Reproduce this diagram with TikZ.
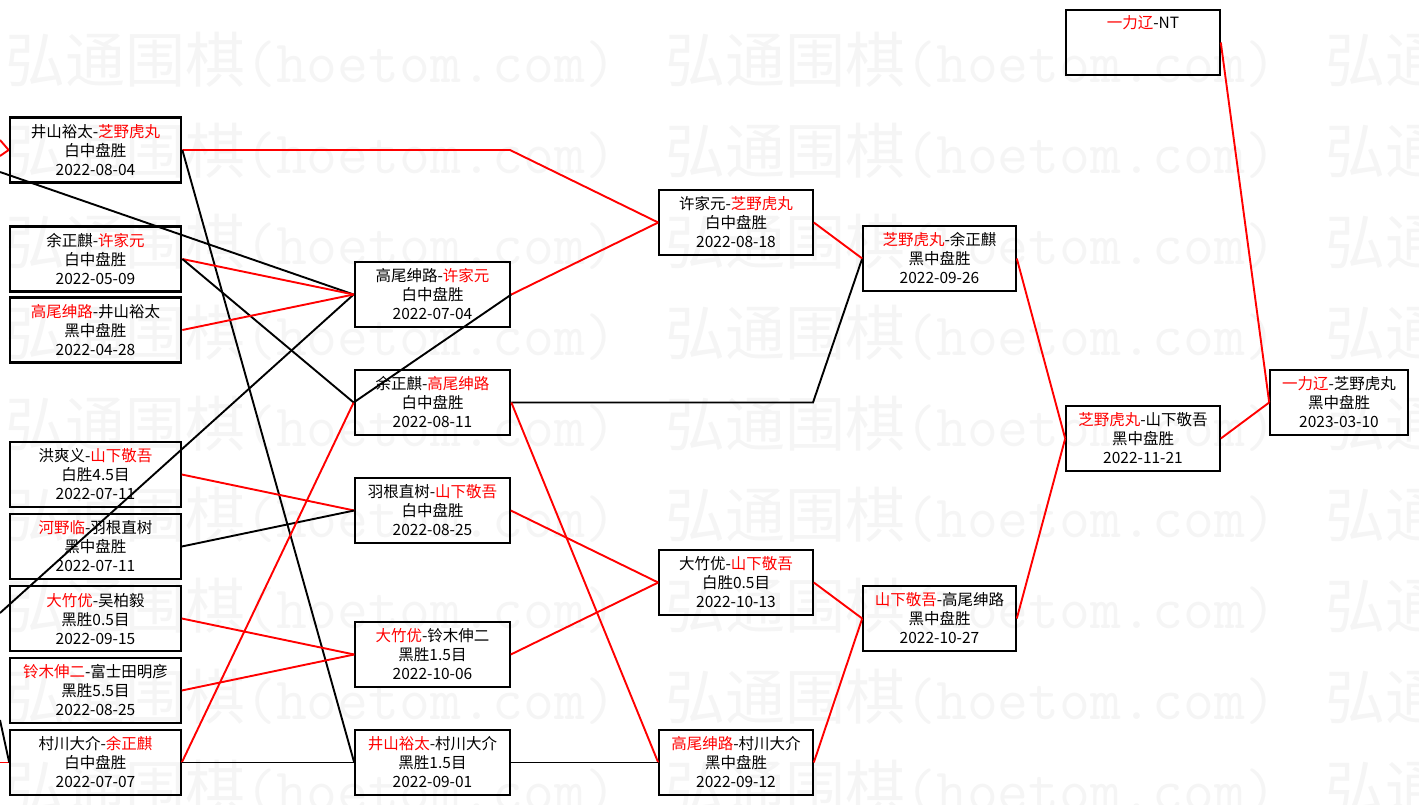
\documentclass[tikz,border=0pt]{standalone}
\usepackage{fontspec}
\setmainfont{Noto Sans CJK SC}
\newcommand\rn[1]{\textcolor{red}{#1}}
\tikzset{
  game/.style={draw, line width=1.6pt, minimum height=65pt, inner sep=0pt, align=center,
    font=\fontsize{15.5}{19}\selectfont},
  colA/.style={game, minimum width=171pt},
  colB/.style={game, minimum width=155pt},
  colC/.style={game, minimum width=154pt},
  colD/.style={game, minimum width=153pt},
  colE/.style={game, minimum width=154pt},
  colF/.style={game, minimum width=138pt},
  heavy/.style={line width=2.7pt},
  win/.style={draw=red, line width=1.9pt},
  lose/.style={draw=black, line width=1.9pt},
  wm/.style={anchor=west, inner sep=0pt, text=black!4, font=\fontsize{60}{60}\selectfont}
}
\begin{document}
\begin{tikzpicture}[x=1pt,y=-1pt]
\useasboundingbox (0,0) rectangle (1419,805);
\begin{scope}
\clip (0,0) rectangle (1419,805);
\foreach \r in {0,...,8}{
  \foreach \c in {0,1,2}{
    \node[wm] (wm-\r-\c) at (5+660*\c, 60+91*\r) {弘通围棋{\ttfamily(hoetom.com)}};
  }
}
\end{scope}

% column A
\node[colA, heavy] (A1) at (95.5,150) {井山裕太-\rn{芝野虎丸}\\白中盘胜\\2022-08-04};
\node[colA, heavy] (A2) at (95.5,259) {余正麒-\rn{许家元}\\白中盘胜\\2022-05-09};
\node[colA, heavy] (A3) at (95.5,330) {\rn{高尾绅路}-井山裕太\\黑中盘胜\\2022-04-28};
\node[colA] (A4) at (95.5,474.5) {洪爽义-\rn{山下敬吾}\\白胜4.5目\\2022-07-11};
\node[colA] (A5) at (95.5,546.5) {\rn{河野临}-羽根直树\\黑中盘胜\\2022-07-11};
\node[colA] (A6) at (95.5,618.5) {\rn{大竹优}-吴柏毅\\黑胜0.5目\\2022-09-15};
\node[colA] (A7) at (95.5,690.5) {\rn{铃木伸二}-富士田明彦\\黑胜5.5目\\2022-08-25};
\node[colA] (A8) at (95.5,762.5) {村川大介-\rn{余正麒}\\白中盘胜\\2022-07-07};
% column B
\node[colB, heavy] (B1) at (432.5,294.5) {高尾绅路-\rn{许家元}\\白中盘胜\\2022-07-04};
\node[colB, heavy] (B2) at (432.5,402.5) {余正麒-\rn{高尾绅路}\\白中盘胜\\2022-08-11};
\node[colB] (B3) at (432.5,510.5) {羽根直树-\rn{山下敬吾}\\白中盘胜\\2022-08-25};
\node[colB] (B4) at (432.5,654.5) {\rn{大竹优}-铃木伸二\\黑胜1.5目\\2022-10-06};
\node[colB] (B5) at (432.5,762.5) {\rn{井山裕太}-村川大介\\黑胜1.5目\\2022-09-01};
% column C
\node[colC] (C1) at (736,222.5) {许家元-\rn{芝野虎丸}\\白中盘胜\\2022-08-18};
\node[colC] (C2) at (736,582.5) {大竹优-\rn{山下敬吾}\\白胜0.5目\\2022-10-13};
\node[colC] (C3) at (736,762.5) {\rn{高尾绅路}-村川大介\\黑中盘胜\\2022-09-12};
% column D
\node[colD] (D1) at (939.5,258.5) {\rn{芝野虎丸}-余正麒\\黑中盘胜\\2022-09-26};
\node[colD] (D2) at (939.5,618.5) {\rn{山下敬吾}-高尾绅路\\黑中盘胜\\2022-10-27};
% column E
\node[colE] (E0) at (1143,42.5) {};
\node[inner sep=0pt, font=\fontsize{15.5}{19}\selectfont] (E0t) at (1143,23) {\rn{一力辽}-NT};
\node[colE] (E1) at (1143,438.5) {\rn{芝野虎丸}-山下敬吾\\黑中盘胜\\2022-11-21};
% column F
\node[colF] (F1) at (1339,402.5) {\rn{一力辽}-芝野虎丸\\黑中盘胜\\2023-03-10};

% off-picture ends
\coordinate (inA1a) at (0,140);
\coordinate (inA1b) at (0,156);
\coordinate (inB1a) at (0,172);
\coordinate (inB1b) at (0,613);
\coordinate (inA8a) at (0,720);
\coordinate (inA8b) at (0,762.5);
\coordinate (bendA1) at (510,150);
\coordinate (bendB2) at (813,402.5);

% connectors
\draw[win] (inA1a) -- (A1.west);
\draw[win] (inA1b) -- (A1.west);
\draw[win] (inA8b) -- (A8.west);
\draw[lose] (inA8a) -- (A8.west);
\draw[lose] (inB1a) -- (B1.west);
\draw[lose] (inB1b) -- (B1.west);

\draw[win] (A1.east) -- (bendA1) -- (C1.west);
\draw[lose] (A1.east) -- (B5.west);
\draw[win] (A2.east) -- (B1.west);
\draw[lose] (A2.east) -- (B2.west);
\draw[win] (A3.east) -- (B1.west);
\draw[win] (A4.east) -- (B3.west);
\draw[lose] (A5.east) -- (B3.west);
\draw[win] (A6.east) -- (B4.west);
\draw[win] (A7.east) -- (B4.west);
\draw[win] (A8.east) -- (B2.west);
\draw[lose] (A8.east) -- (B5.west);

\draw[win] (B1.east) -- (C1.west);
\draw[lose] (B1.east) -- (B2.west);
\draw[lose] (B2.east) -- (bendB2) -- (D1.west);
\draw[win] (B2.east) -- (C3.west);
\draw[win] (B3.east) -- (C2.west);
\draw[win] (B4.east) -- (C2.west);
\draw[lose] (B5.east) -- (C3.west);

\draw[win] (C1.east) -- (D1.west);
\draw[win] (C2.east) -- (D2.west);
\draw[win] (C3.east) -- (D2.west);

\draw[win] (D1.east) -- (E1.west);
\draw[win] (D2.east) -- (E1.west);

\draw[win] (E1.east) -- (F1.west);
\draw[win] (E0.east) -- (F1.west);
\end{tikzpicture}
\end{document}
